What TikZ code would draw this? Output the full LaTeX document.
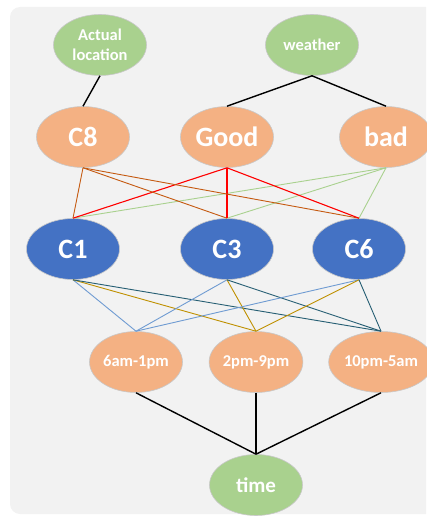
\documentclass[tikz,border=0pt]{standalone}
\usepackage{fontspec}
\setmainfont{Carlito}
\usetikzlibrary{shapes.geometric}
\definecolor{bggray}{HTML}{F2F2F2}
\definecolor{gfill}{HTML}{A9D18E}
\definecolor{ofill}{HTML}{F4B183}
\definecolor{bfill}{HTML}{4472C4}
\definecolor{edgegray}{HTML}{C8C8C8}
\definecolor{cbrown}{HTML}{C55A11}
\definecolor{cred}{HTML}{FF0000}
\definecolor{cgreen}{HTML}{A9D18E}
\definecolor{cblue}{HTML}{6F9BD2}
\definecolor{cgold}{HTML}{BF9000}
\definecolor{cteal}{HTML}{255E73}
\tikzset{
  oval/.style={ellipse, draw=edgegray, line width=0.6pt, inner sep=0pt,
    minimum width=93pt, minimum height=61pt, text=white, font=\bfseries},
  gnode/.style={oval, fill=gfill},
  onode/.style={oval, fill=ofill},
  bnode/.style={oval, fill=bfill},
  small/.style={font=\fontsize{16.5}{20}\selectfont\bfseries},
  big/.style={font=\fontsize{28}{30}\selectfont\bfseries},
  mid/.style={font=\fontsize{21}{23}\selectfont\bfseries},
  blk/.style={draw=black, line width=1.4pt},
  lnk/.style={line width=0.9pt},
}
\begin{document}
\begin{tikzpicture}[x=1pt,y=-1pt]
\useasboundingbox (0,0) rectangle (426,516);
\begin{scope}
\clip (0,0) rectangle (426,516);
\fill[bggray, rounded corners=10pt] (10,7) rectangle (446,514);
\end{scope}
% nodes
\node[gnode, small, align=center] (loc) at (100,45) {Actual\\location};
\node[gnode, small] (wea) at (312,45) {weather};
\node[onode, big] (c8) at (83,137) {C8};
\node[onode, big] (good) at (227,137) {Good};
\node[onode, big] (bad) at (386,137) {bad};
\node[bnode, big] (c1) at (73,249) {C1};
\node[bnode, big] (c3) at (227,249) {C3};
\node[bnode, big] (c6) at (359,249) {C6};
\node[onode, small] (t1) at (136,362) {6am-1pm};
\node[onode, small] (t2) at (256,362) {2pm-9pm};
\node[onode, small] (t3) at (381,362) {10pm-5am};
\node[gnode, mid] (time) at (256,485) {time};
% connectors
\draw[blk] (loc.south) -- (c8.north);
\draw[blk] (wea.south) -- (good.north);
\draw[blk] (wea.south) -- (bad.north);
\foreach \t in {c1,c3,c6} {
  \draw[lnk, cbrown] (c8.south) -- (\t.north);
  \draw[lnk, cgreen] (bad.south) -- (\t.north);
  \draw[lnk, cred, line width=1.1pt] (good.south) -- (\t.north);
}
\foreach \s in {c1,c3,c6} {
  \draw[lnk, cblue] (\s.south) -- (t1.north);
  \draw[lnk, cgold] (\s.south) -- (t2.north);
  \draw[lnk, cteal] (\s.south) -- (t3.north);
}
\draw[blk] (t1.south) -- (time.north);
\draw[blk] (t2.south) -- (time.north);
\draw[blk] (t3.south) -- (time.north);
\end{tikzpicture}
\end{document}
